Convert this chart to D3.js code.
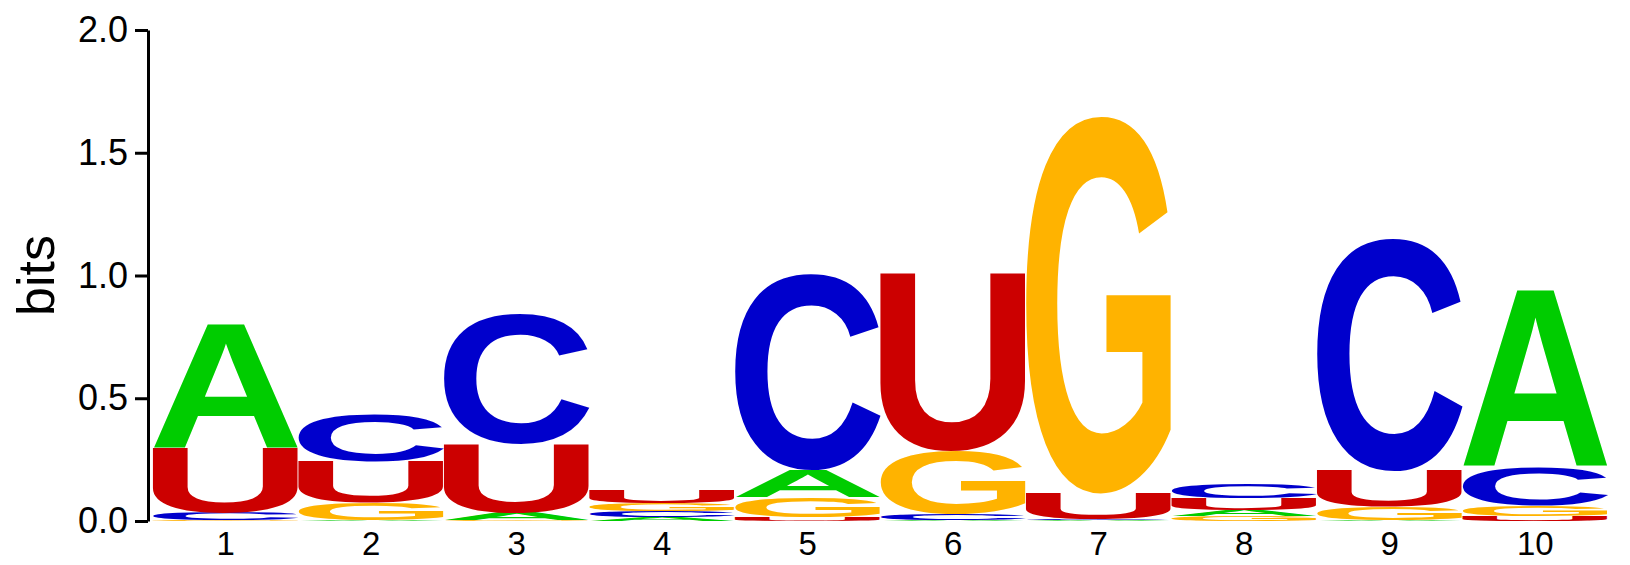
<!DOCTYPE html>
<html>
<head>
<meta charset="utf-8">
<script src="https://cdn.jsdelivr.net/npm/d3@7"></script>
<style>
  body { margin: 0; background: #fff; }
  svg { display: block; }
</style>
</head>
<body>
<div id="logo"></div>
<script>
// sequence logo, information content in bits per position

var positions = [1, 2, 3, 4, 5, 6, 7, 8, 9, 10];
var bitsA = [0.505, 0.005, 0.030, 0.017, 0.110, 0.003, 0.003, 0.025, 0.003, 0.720];
var bitsC = [0.030, 0.190, 0.530, 0.025, 0.800, 0.025, 0.003, 0.056, 0.948, 0.155];
var bitsG = [0.004, 0.070, 0.003, 0.030, 0.080, 0.255, 1.538, 0.020, 0.055, 0.045];
var bitsU = [0.265, 0.167, 0.280, 0.051, 0.017, 0.728, 0.106, 0.048, 0.145, 0.020];
var yTicks = [0, 0.5, 1.0, 1.5, 2.0];

var letterColors = { A: "#00cc00", C: "#0000cc", G: "#ffb300", U: "#cc0000" };

var svgWidth = 1630;
var svgHeight = 565;

var margin = { top: 30, right: 22, bottom: 44, left: 153 };

var svg = d3.select("#logo")
  .append("svg")
  .attr("width", svgWidth)
  .attr("height", svgHeight);

var xScale = d3.scaleBand()
  .domain(positions)
  .range([margin.left, svgWidth - margin.right])
  .padding(0);

var yScale = d3.scaleLinear()
  .domain([0, 2])
  .range([svgHeight - margin.bottom, margin.top]);

// y axis
var yAxis = svg.append("g")
  .attr("transform", "translate(148, 0)")
  .call(d3.axisLeft(yScale)
    .tickValues(yTicks)
    .tickFormat(d3.format(".1f"))
    .tickSize(13)
    .tickSizeOuter(0)
    .tickPadding(7));

yAxis.select(".domain").attr("stroke", "#000").attr("stroke-width", 3);
yAxis.selectAll(".tick line").attr("stroke", "#000").attr("stroke-width", 3);
yAxis.selectAll(".tick text")
  .attr("fill", "#000")
  .style("font-family", "'Liberation Sans', Arial, sans-serif")
  .style("font-size", "36px");

// axis title
svg.append("text")
  .attr("transform", "translate(54, " + yScale(1) + ") rotate(-90)")
  .attr("text-anchor", "middle")
  .style("font-family", "'Liberation Sans', Arial, sans-serif")
  .style("font-size", "52px")
  .attr("fill", "#000")
  .text("bits");

// position labels
svg.append("g")
  .selectAll("text")
  .data(positions)
  .enter()
  .append("text")
  .attr("x", d => xScale(d) + xScale.bandwidth() / 2)
  .attr("y", 555)
  .attr("text-anchor", "middle")
  .style("font-family", "'Liberation Sans', Arial, sans-serif")
  .style("font-size", "33px")
  .attr("fill", "#000")
  .text(d => d);

// measure glyph ink so every letter can be stretched to fill its box
var fontSize = 200;
var ctx = document.createElement("canvas").getContext("2d");
ctx.font = "bold " + fontSize + "px 'Liberation Sans'";
var glyph = {};
["A", "C", "G", "U"].forEach(function(l) {
  var m = ctx.measureText(l);
  glyph[l] = {
    left: m.actualBoundingBoxLeft,
    w: m.actualBoundingBoxLeft + m.actualBoundingBoxRight,
    asc: m.actualBoundingBoxAscent,
    h: m.actualBoundingBoxAscent + m.actualBoundingBoxDescent
  };
});

// stack letters: smallest at the bottom
var stacks = positions.map(function(p, i) {
  var col = [
    { letter: "A", bits: bitsA[i] },
    { letter: "C", bits: bitsC[i] },
    { letter: "G", bits: bitsG[i] },
    { letter: "U", bits: bitsU[i] }
  ].sort((a, b) => a.bits - b.bits);
  var y0 = 0;
  col.forEach(function(d) {
    d.pos = p;
    d.y0 = y0;
    d.y1 = y0 + d.bits;
    y0 = d.y1;
  });
  return col;
});

var letters = svg.append("g")
  .selectAll("g.column")
  .data(stacks)
  .enter()
  .append("g")
  .attr("class", "column")
  .selectAll("g.letter")
  .data(d => d)
  .enter()
  .append("g")
  .attr("class", "letter")
  .attr("transform", function(d) {
    var g = glyph[d.letter];
    var boxW = xScale.bandwidth();
    var boxH = yScale(d.y0) - yScale(d.y1);
    return "translate(" + xScale(d.pos) + "," + yScale(d.y1) + ") scale(" +
      (boxW / g.w) + "," + (boxH / g.h) + ")";
  });

letters.append("text")
  .attr("x", d => glyph[d.letter].left)
  .attr("y", d => glyph[d.letter].asc)
  .style("font-family", "'Liberation Sans'")
  .style("font-weight", "bold")
  .style("font-size", fontSize + "px")
  .attr("fill", d => letterColors[d.letter])
  .text(d => d.letter);
</script>
</body>
</html>
